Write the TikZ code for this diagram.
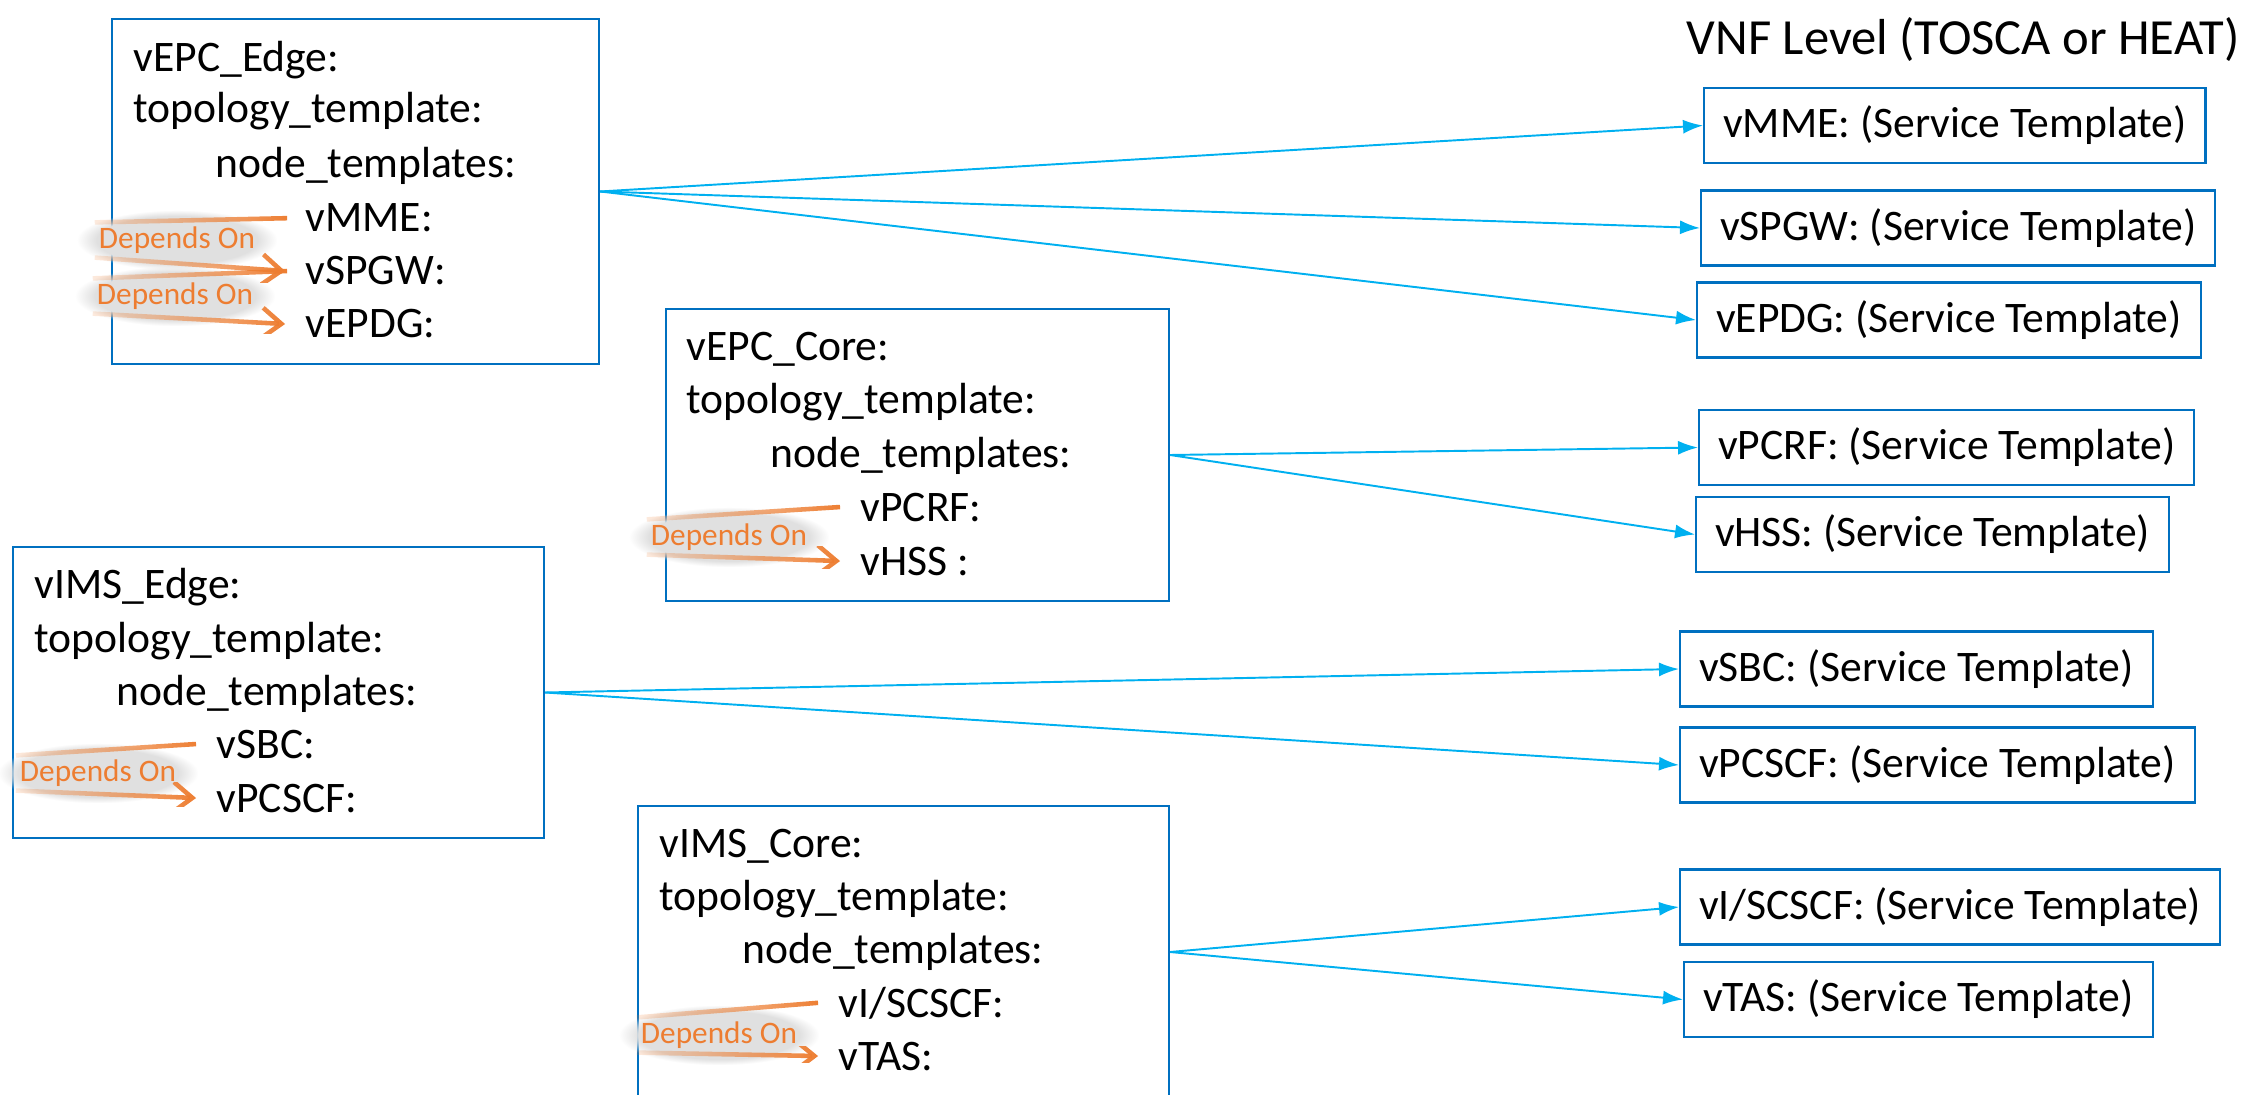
\documentclass[tikz,border=0pt]{standalone}
\usepackage{fontspec}
\setmainfont{Carlito}
\usetikzlibrary{arrows.meta,fadings}
\definecolor{boxblue}{RGB}{0,112,192}
\definecolor{linkblue}{RGB}{0,176,240}
\definecolor{deporange}{RGB}{237,125,49}
\tikzfading[name=fadein, left color=transparent!85, right color=transparent!0]

\begin{document}
\begin{tikzpicture}[
  vbox/.style = {draw=boxblue, line width=0.6pt, inner sep=0},
  txt/.style = {inner sep=0, anchor=base west, font=\fontsize{12.4}{15}\selectfont},
  tmpl/.style = {draw=boxblue, line width=0.6pt, anchor=west, inner xsep=0.19cm, minimum height=0.75cm, font=\fontsize{12.4}{15}\selectfont},
  conn/.style = {draw=linkblue, line width=0.55pt, -{Latex[length=0.2cm,width=0.14cm]}},
  dep/.style = {draw=deporange, line width=1.3pt, path fading=fadein},
  deptip/.style = {-{Straight Barb[length=0.19cm,width=0.3cm]}},
  glow/.style = {fill=black!12, minimum width=2cm, minimum height=0.6cm, path fading=circle with fuzzy edge 20 percent},
  deplabel/.style = {text=deporange, inner sep=1pt, font=\fontsize{8.9}{10}\selectfont}]
\useasboundingbox (0,0) rectangle (22.5,-10.95);

%service boxes
\node[vbox, minimum width=4.87cm, minimum height=3.45cm] (epcedge) at (3.555,-1.915) {};
\node[vbox, minimum width=5.03cm, minimum height=2.92cm] (epccore) at (9.175,-4.55) {};
\node[vbox, minimum width=5.31cm, minimum height=2.91cm] (imsedge) at (2.785,-6.925) {};
\node[vbox, minimum width=5.31cm, minimum height=2.92cm] (imscore) at (9.035,-9.52) {};

\node[txt] (e1) at (1.33,-0.72) {vEPC\_Edge:};
\node[txt] (e2) at (1.33,-1.23) {topology\_template:};
\node[txt] (e3) at (2.15,-1.78) {node\_templates:};
\node[txt] (mme) at (3.05,-2.32) {vMME:};
\node[txt] (spgw) at (3.05,-2.85) {vSPGW:};
\node[txt] (epdg) at (3.05,-3.38) {vEPDG:};

\node[txt] (c1) at (6.86,-3.61) {vEPC\_Core:};
\node[txt] (c2) at (6.86,-4.14) {topology\_template:};
\node[txt] (c3) at (7.70,-4.68) {node\_templates:};
\node[txt] (pcrf) at (8.60,-5.21) {vPCRF:};
\node[txt] (hss) at (8.60,-5.75) {vHSS :};

\node[txt] (i1) at (0.34,-5.98) {vIMS\_Edge:};
\node[txt] (i2) at (0.34,-6.52) {topology\_template:};
\node[txt] (i3) at (1.16,-7.05) {node\_templates:};
\node[txt] (sbc) at (2.16,-7.58) {vSBC:};
\node[txt] (pcscf) at (2.16,-8.12) {vPCSCF:};

\node[txt] (k1) at (6.59,-8.57) {vIMS\_Core:};
\node[txt] (k2) at (6.59,-9.10) {topology\_template:};
\node[txt] (k3) at (7.42,-9.63) {node\_templates:};
\node[txt] (iscscf) at (8.38,-10.17) {vI/SCSCF:};
\node[txt] (tas) at (8.38,-10.70) {vTAS:};

%vnf level
\node[txt, font=\fontsize{14.4}{17}\selectfont] (vnf) at (16.86,-0.55) {VNF Level (TOSCA or HEAT)};
\node[tmpl] (tmme) at (17.03,-1.255) {vMME: (Service Template)};
\node[tmpl] (tspgw) at (17.00,-2.28) {vSPGW: (Service Template)};
\node[tmpl] (tepdg) at (16.96,-3.20) {vEPDG: (Service Template)};
\node[tmpl] (tpcrf) at (16.98,-4.475) {vPCRF: (Service Template)};
\node[tmpl] (thss) at (16.95,-5.345) {vHSS: (Service Template)};
\node[tmpl] (tsbc) at (16.79,-6.69) {vSBC: (Service Template)};
\node[tmpl] (tpcscf) at (16.79,-7.65) {vPCSCF: (Service Template)};
\node[tmpl] (tiscscf) at (16.79,-9.07) {vI/SCSCF: (Service Template)};
\node[tmpl] (ttas) at (16.83,-9.995) {vTAS: (Service Template)};

\draw[conn] (epcedge.east) -- (tmme.west);
\draw[conn] (epcedge.east) -- (tspgw.west);
\draw[conn] (epcedge.east) -- (tepdg.west);
\draw[conn] (epccore.east) -- (tpcrf.west);
\draw[conn] (epccore.east) -- (thss.west);
\draw[conn] (imsedge.east) -- (tsbc.west);
\draw[conn] (imsedge.east) -- (tpcscf.west);
\draw[conn] (imscore.east) -- (tiscscf.west);
\draw[conn] (imscore.east) -- (ttas.west);

%depends on
\node[glow] (g1) at (1.77,-2.40) {};
\node[deplabel] (d1) at (g1) {Depends On};
\node[glow] (g2) at (1.75,-2.96) {};
\node[deplabel] (d2) at (g2) {Depends On};
\node[glow] (g3) at (7.29,-5.37) {};
\node[deplabel] (d3) at (g3) {Depends On};
\node[glow] (g4) at (0.98,-7.73) {};
\node[deplabel] (d4) at (g4) {Depends On};
\node[glow] (g5) at (7.19,-10.35) {};
\node[deplabel] (d5) at (g5) {Depends On};

\draw[dep] ([xshift=-0.18cm]mme.west) -- (d1.north west);
\draw[dep, deptip] (d1.south west) -- ([xshift=-0.2cm]spgw.west);
\draw[dep] ([xshift=-0.18cm]spgw.west) -- (d2.north west);
\draw[dep, deptip] (d2.south west) -- ([xshift=-0.2cm]epdg.west);
\draw[dep] ([xshift=-0.2cm]pcrf.west) -- (d3.north west);
\draw[dep, deptip] (d3.south west) -- ([xshift=-0.2cm]hss.west);
\draw[dep] ([xshift=-0.2cm]sbc.west) -- (d4.north west);
\draw[dep, deptip] (d4.south west) -- ([xshift=-0.2cm]pcscf.west);
\draw[dep] ([xshift=-0.2cm]iscscf.west) -- (d5.north west);
\draw[dep, deptip] (d5.south west) -- ([xshift=-0.2cm]tas.west);
\end{tikzpicture}
\end{document}
